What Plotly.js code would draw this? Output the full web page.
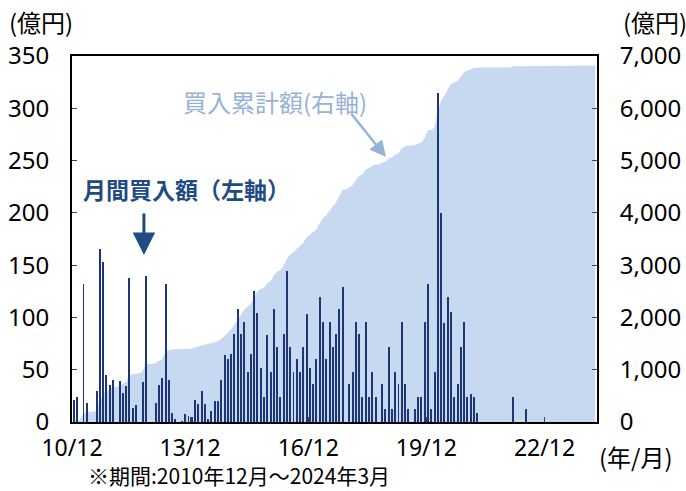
<!DOCTYPE html>
<html><head><meta charset="utf-8">
<script src="https://cdn.plot.ly/plotly-3.0.1.min.js"></script>
<style>html,body{margin:0;padding:0;background:#fff}#c{width:686px;height:491px}</style>
</head><body><div id="c"></div>
<script>
// Month index 0 = 2010/12 ... 159 = 2024/03
const startYear = 2010, startMonth = 12, monthCount = 160;
// Monthly purchases (億円), listed as [monthIndex, value]; other months are 0
const purchaseMonths = [0,1,3,4,7,8,9,10,11,12,14,15,16,17,18,19,21,22,25,26,27,28,29,30,31,33,34,35,36,37,38,39,
  40,41,42,43,44,45,46,47,48,49,50,51,52,53,54,55,56,57,58,59,60,61,62,63,64,65,66,67,68,69,70,71,72,73,74,75,76,77,78,79,
  80,81,82,84,85,86,87,88,89,90,91,92,94,95,96,97,98,99,100,101,102,104,105,106,107,108,109,110,111,112,113,114,115,116,117,118,119,
  120,121,122,123,134,138];
const purchaseValues = [21,24,132,18,30,165,153,45,35,40,39,28,34,138,13,16,38,140,18,35,42,132,40,9,3,1,8,6,5,21,17,30,
  17,3,11,20,20,40,64,60,65,84,108,84,96,48,65,125,104,52,24,83,48,108,72,24,84,144,72,48,60,48,72,103,52,36,60,120,96,60,96,72,
  84,108,129,36,48,96,84,24,96,24,48,24,36,12,72,12,48,36,96,36,12,12,24,24,96,132,12,48,315,200,95,120,105,24,36,72,96,
  24,27,24,9,24,12];
const tickText = ['10/12','13/12','16/12','19/12','22/12'];

const months = [], monthly = [];
for (let i = 0; i < monthCount; i++) { months.push(i); monthly.push(0); }
purchaseMonths.forEach((m, k) => { monthly[m] = purchaseValues[k]; });
// cumulative purchases (右軸) = running total of the monthly purchases
const cumulative = []; let s = 0;
monthly.forEach(v => { s += v; cumulative.push(s); });

const tickVals = tickText.map((t, k) => k * 36 - 0.5);

const fontFam = '"Noto Sans CJK JP", "Noto Sans", sans-serif';
const numFam = '"Noto Sans", "Noto Sans CJK JP", sans-serif';
const traces = [
  {x: months, y: cumulative, type: 'scatter', mode: 'lines', fill: 'tozeroy',
   line: {width: 0, color: '#c6d9f1'}, fillcolor: '#c6d9f1', yaxis: 'y', hoverinfo: 'skip'},
  {x: months, y: monthly, type: 'bar', yaxis: 'y2', width: 0.6,
   marker: {color: '#1c3676', line: {width: 0}}}
];
function txt(text, x, y, size, color, extra) {
  return Object.assign({text: text, xref: 'paper', yref: 'paper', x: x, y: y, xanchor: 'center', yanchor: 'middle',
    showarrow: false, font: {size: size, color: color || '#000', family: fontFam}}, extra || {});
}
const layout = {
  width: 686, height: 491,
  margin: {l: 72, r: 89, t: 56, b: 69},
  paper_bgcolor: '#fff', plot_bgcolor: '#fff',
  showlegend: false,
  font: {family: fontFam, size: 24, color: '#000'},
  bargap: 0,
  xaxis: {range: [-0.5, 159.5], tickvals: tickVals, ticktext: tickText, ticks: 'inside', ticklen: 5,
          tickwidth: 1, tickcolor: '#444', showline: true, linecolor: '#000', linewidth: 2, mirror: true,
          showgrid: false, zeroline: false, tickfont: {size: 23, family: numFam}, ticklabelstandoff: 4},
  yaxis: {side: 'right', range: [0, 7000], dtick: 1000, tickformat: ',d', ticks: 'inside', ticklen: 5,
          tickcolor: '#444', showline: true, linecolor: '#000', linewidth: 2, showgrid: false, zeroline: false,
          tickfont: {size: 24, family: numFam}, ticklabelstandoff: 16},
  yaxis2: {overlaying: 'y', side: 'left', range: [0, 350], dtick: 50, ticks: 'inside', ticklen: 5,
           tickcolor: '#444', showline: true, linecolor: '#000', linewidth: 2, showgrid: false, zeroline: false,
           tickfont: {size: 24, family: numFam}, ticklabelstandoff: 16},
  annotations: [
    txt('買入累計額(右軸)', 0.3867, 0.877, 24, '#95b3d7'),
    {text: '', xref: 'paper', yref: 'paper', x: 0.598, y: 0.724, ax: -36, ay: -45, showarrow: true,
     arrowhead: 2, arrowsize: 1.3, arrowwidth: 2.5, arrowcolor: '#95b3d7'},
    txt('<b>月間買入額（左軸）</b>', 0.219, 0.6366, 23, '#1f4b86'),
    {text: '', xref: 'paper', yref: 'paper', x: 0.137, y: 0.456, ax: 0, ay: -43, showarrow: true,
     arrowhead: 2, arrowsize: 1.5, arrowwidth: 3, arrowcolor: '#1f4b86'},
    txt('(億円)', -0.059, 1.0956, 24),
    txt('(億円)', 1.1105, 1.0956, 24),
    txt('(年/月)', 1.074, -0.0956, 24),
    txt('※期間:2010年12月～2024年3月', 0.0267, -0.1448, 21, '#000', {xanchor: 'left'})
  ]
};
Plotly.newPlot('c', traces, layout, {displayModeBar: false, staticPlot: true});
</script>
</body></html>
